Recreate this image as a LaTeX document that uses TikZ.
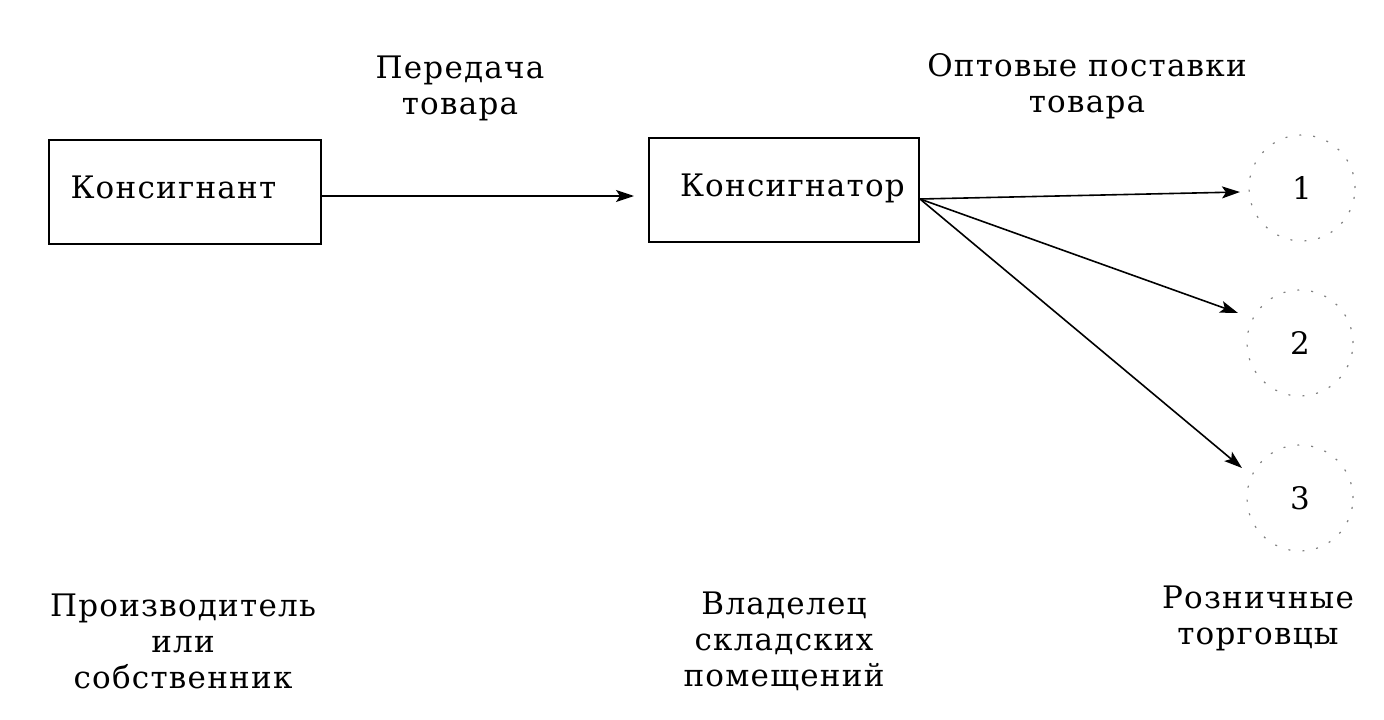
\documentclass[tikz,border=0pt]{standalone}
\usepackage{fontspec}
\setmainfont{DejaVu Serif}[LetterSpace=4]
\usetikzlibrary{arrows.meta}
\begin{document}
\begin{tikzpicture}[x=1pt,y=-1pt,
  every node/.style={font=\fontsize{31}{36}\selectfont, inner sep=0pt},
  boxnode/.style={draw, line width=2pt, minimum width=272pt, minimum height=104pt, text height=22pt, text depth=10pt},
  ring/.style={draw=black!50, line width=1.2pt, dash pattern=on 2pt off 12pt, circle, minimum size=106pt},
  flow/.style={line width=1.6pt, -{Stealth[length=18pt,width=12pt,inset=4pt]}},
  lbl/.style={align=center}]
\useasboundingbox (0,0) rectangle (1384,720);
\node[boxnode, text width=228pt, align=left, inner xsep=22pt] (a) at (184.5,192) {Консигнант};
\node[boxnode, minimum width=270pt, text width=230pt, align=left, inner xsep=20pt] (b) at (784,190) {\hspace*{11pt}Консигнатор};
\node[ring] (c1) at (1302,188) {1};
\node[ring] (c2) at (1300,343) {2};
\node[ring] (c3) at (1300,498) {3};
\coordinate (bs) at (920,199);
\draw[flow] (a.east |- 0,196) -- (634,196) coordinate (t0);
\draw[flow] (bs) -- (1240,192) coordinate (t1);
\draw[flow] (bs) -- (1238,313) coordinate (t2);
\draw[flow] (bs) -- (1242,468) coordinate (t3);
\node[lbl] (l1) at (460,88) {Передача\\товара};
\node[lbl] (l2) at (1087,86) {Оптовые поставки\\товара};
\node[lbl] (l3) at (183,641) {Производитель\\или\\собственник};
\node[lbl] (l4) at (784,641) {Владелец\\складских\\помещений};
\node[lbl] (l5) at (1258,618) {Розничные\\торговцы};
\end{tikzpicture}
\end{document}
